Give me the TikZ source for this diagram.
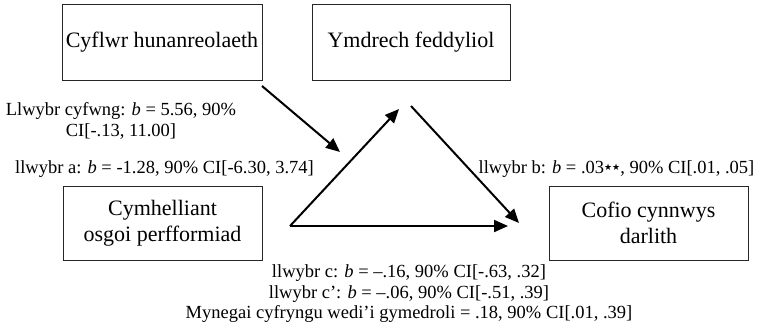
\documentclass[tikz,border=0pt]{standalone}
\usepackage{fontspec}
\setmainfont{Liberation Serif}
\newfontfamily\symfont{DejaVu Sans}
\usetikzlibrary{arrows.meta}
\begin{document}
\begin{tikzpicture}[x=1pt,y=-1pt,
  box/.style={draw=black!85, line width=0.9pt, inner sep=0pt, align=center, font=\fontsize{22}{26}\selectfont},
  lab/.style={inner sep=0pt, align=center, font=\fontsize{18.5}{20.5}\selectfont},
  arr/.style={line width=2pt, -{Triangle[length=14pt,width=12pt]}}]
\useasboundingbox (0,0) rectangle (762,333);
\node[box, minimum width=200pt, minimum height=76pt] (sc) at (162,42) {Cyflwr hunanreolaeth};
\node[box, minimum width=198pt, minimum height=76pt] (me) at (411,42) {Ymdrech feddyliol};
\node[box, minimum width=199pt, minimum height=74pt] (ap) at (162.5,223) {Cymhelliant\\osgoi perfformiad};
\node[box, minimum width=199pt, minimum height=74pt] (lr) at (648.5,223) {Cofio cynnwys\\darlith};
\coordinate (mS) at (262,86);
\coordinate (mE) at (340,152);
\coordinate (aS) at (290,226);
\coordinate (aE) at (399,109);
\coordinate (bS) at (411,106);
\coordinate (bE) at (519,223);
\coordinate (cE) at (508,226);
\draw[arr] (mS) -- (mE);
\draw[arr] (aS) -- (aE);
\draw[arr] (bS) -- (bE);
\draw[arr] (aS) -- (cE);
\node[lab] (lm) at (121,121) {Llwybr cyfwng: \textit{b} = 5.56, 90\%\\CI[-.13, 11.00]};
\node[lab] (la) at (164.5,169) {llwybr a: \textit{b} = -1.28, 90\% CI[-6.30, 3.74]};
\node[lab] (lb) at (616.5,169) {llwybr b: \textit{b} = .03\raisebox{3pt}{\symfont\fontsize{9}{9}\selectfont ★★}, 90\% CI[.01, .05]};
\node[lab] (lc) at (409,294) {llwybr c: \textit{b} = –.16, 90\% CI[-.63, .32]\\llwybr c’: \textit{b} = –.06, 90\% CI[-.51, .39]\\Mynegai cyfryngu wedi’i gymedroli = .18, 90\% CI[.01, .39]};
\end{tikzpicture}
\end{document}
